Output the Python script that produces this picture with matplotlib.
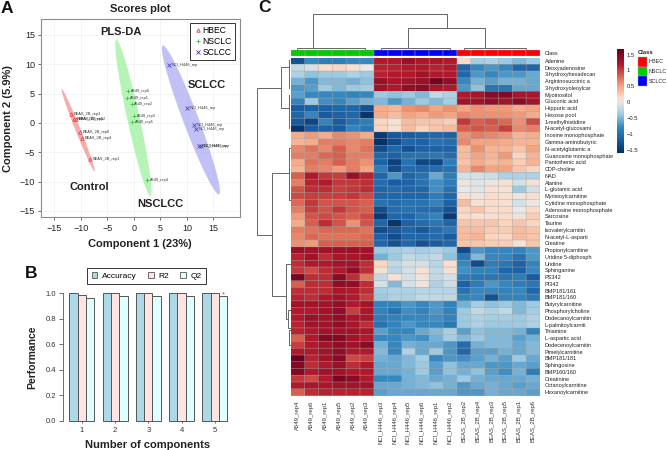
import numpy as np
import matplotlib
matplotlib.use('Agg')
import matplotlib.pyplot as plt
from matplotlib.patches import Rectangle
from matplotlib.colors import Normalize, LinearSegmentedColormap

plt.rcParams['font.family'] = ['Liberation Sans', 'DejaVu Sans']

W, H = 667, 450

# panel A data
hbec_x = [-11.8, -11.2, -10.9, -10.2, -9.8, -8.2]
hbec_y = [1.5, 0.7, 0.7, -1.5, -2.5, -6.1]
hbec_names = ['BEAS_2B_rep3', 'BEAS_2B_rep5', 'BEAS_2B_rep2', 'BEAS_2B_rep6', 'BEAS_2B_rep4', 'BEAS_2B_rep1']
nsclc_x = [-1.1, -1.3, -0.4, 0.0, -0.3, 2.5]
nsclc_y = [5.5, 4.2, 3.3, 1.1, 0.1, -9.7]
nsclc_names = ['A549_rep6', 'A549_rep1', 'A549_rep2', 'A549_rep3', 'A549_rep5', 'A549_rep4']
sclc_x = [6.7, 10.0, 11.4, 11.7, 12.3, 12.6]
sclc_y = [9.9, 2.6, -0.4, -1.1, -4.0, -4.0]
sclc_names = ['NCI_H446_rep', 'NCI_H446_rep', 'NCI_H446_rep', 'NCI_H446_rep', 'NCI_H446_rep', 'NCI_H446_rep']

# panel B data
components = [1, 2, 3, 4, 5]
accuracy = [1.0, 1.0, 1.0, 1.0, 1.0]
r2 = [0.985, 0.999, 0.999, 0.999, 0.999]
q2 = [0.96, 0.975, 0.975, 0.975, 0.975]

# panel C data
metabolites = ['Adenine', 'Deoxyadenosine', '3-hydroxyhexadecan', 'Argininosuccinic a', '3-hydroxyoleoylcar',
               'Myoinositol', 'Gluconic acid', 'Hippuric acid', 'Hexose pool', '1-methylhistidine',
               'N-acetyl-glucosami', 'Inosine monophosphate', 'Gamma-aminobutyric', 'N-acetylglutamic a',
               'Guanosine monophosphate', 'Pantothenic acid', 'CDP-choline', 'NAD', 'Alanine', 'L-glutamic acid',
               'Myristoylcarnitine', 'Cytidine monophosphate', 'Adenosine monophosphate', 'Sarcosine', 'Taurine',
               'Isovalerylcarnitin', 'N-acetyl-L-asparti', 'Creatine', 'Propionylcarnitine', 'Uridine 5-diphosph',
               'Uridine', 'Sphinganine', 'PS342', 'PI342', 'BMP181/161', 'BMP181/160', 'Butyrylcarnitine',
               'Phosphorylcholine', 'Dodecanoylcarnitin', 'L-palmitoylcarniti', 'Thiamine', 'L-aspartic acid',
               'Dodecenoylcarnitin', 'Pimelylcarnitine', 'BMP181/181', 'Sphingosine', 'BMP160/160', 'Creatinine',
               'Octanoylcarnitine', 'Hexanoylcarnitine']
samples = ['A549_rep4', 'A549_rep6', 'A549_rep1', 'A549_rep5', 'A549_rep2', 'A549_rep3',
           'NCI_H446_rep3', 'NCI_H446_rep4', 'NCI_H446_rep5', 'NCI_H446_rep6', 'NCI_H446_rep1', 'NCI_H446_rep2',
           'BEAS_2B_rep2', 'BEAS_2B_rep4', 'BEAS_2B_rep3', 'BEAS_2B_rep5', 'BEAS_2B_rep1', 'BEAS_2B_rep6']

a549_vals = [
    [-1.3, -0.8, -0.9, -0.9, -0.8, -0.8], [-0.2, -0.1, 0.15, 0.2, 0.1, 0.0], [-0.3, -0.45, -0.4, -0.4, -0.3, -0.4],
    [-0.55, -0.7, -0.5, -0.5, -0.55, -0.45], [-0.7, -0.65, -0.4, -0.5, -0.4, -0.35], [-0.65, -0.8, -0.8, -0.8, -0.85, -0.8],
    [-0.85, -0.4, -0.75, -0.8, -0.65, -0.55], [-1.2, -1.15, -1.15, -1.1, -1.1, -1.3], [-1.1, -0.8, -1.2, -1.15, -1.1, -1.55],
    [-1.25, -1.4, -0.85, -1.2, -1.0, -0.9], [-1.55, -1.2, -1.15, -1.2, -0.85, -0.95], [0.45, 0.55, 0.45, 0.65, 0.6, 0.45],
    [0.4, 0.45, 0.7, 0.7, 0.65, 0.7], [0.65, 0.75, 0.65, 0.85, 0.65, 0.75], [0.7, 0.7, 0.8, 0.85, 0.7, 0.7],
    [0.45, 0.75, 0.7, 0.85, 0.7, 0.6], [0.4, 0.7, 0.65, 0.55, 0.7, 0.5], [0.85, 1.2, 1.05, 1.0, 1.35, 1.15],
    [0.7, 1.15, 1.2, 1.05, 1.05, 1.1], [0.9, 1.1, 1.1, 1.0, 1.05, 1.1], [0.95, 1.0, 1.0, 1.0, 1.05, 0.95],
    [0.8, 1.05, 0.9, 0.9, 0.9, 0.85], [0.7, 1.0, 0.9, 1.05, 0.9, 0.85], [0.55, 0.9, 0.95, 0.9, 0.85, 0.95],
    [0.45, 0.85, 1.1, 0.9, 0.6, 0.9], [0.7, 0.75, 0.8, 0.8, 0.8, 0.75], [0.65, 0.8, 0.75, 0.75, 0.75, 0.8],
    [0.6, 0.55, 0.85, 0.85, 0.85, 0.85], [1.35, 1.3, 1.3, 1.35, 1.35, 1.3], [1.15, 1.3, 1.1, 1.25, 1.25, 1.3],
    [1.1, 1.2, 1.2, 1.3, 1.3, 1.1], [1.05, 0.95, 1.1, 1.2, 1.4, 1.1], [1.55, 1.1, 1.1, 1.45, 1.1, 0.75],
    [0.85, 1.1, 1.1, 1.4, 1.4, 1.1], [1.1, 1.1, 1.1, 1.25, 1.2, 1.1], [1.15, 1.1, 1.2, 1.3, 1.2, 1.0],
    [1.3, 1.3, 1.3, 1.4, 1.2, 1.3], [1.2, 1.2, 1.3, 1.4, 1.0, 1.25], [1.2, 1.35, 1.3, 1.4, 1.25, 1.25],
    [1.15, 1.3, 1.3, 1.4, 1.25, 1.1], [1.15, 1.2, 1.3, 1.3, 1.3, 1.25], [0.85, 1.2, 1.5, 1.5, 1.3, 1.2],
    [1.0, 1.2, 1.3, 1.4, 1.3, 1.45], [1.2, 1.2, 1.3, 1.4, 1.2, 1.2], [1.65, 1.15, 1.3, 1.45, 0.95, 1.0],
    [1.5, 1.1, 1.2, 1.35, 1.1, 1.2], [1.5, 1.2, 1.3, 1.3, 1.2, 1.2], [1.05, 0.95, 1.2, 1.55, 1.45, 1.2],
    [1.2, 1.25, 1.25, 1.3, 1.3, 1.3], [0.85, 1.1, 1.15, 1.15, 1.15, 1.15]]
nci_vals = [
    [1.2, 1.2, 1.35, 1.25, 1.25, 1.2], [1.15, 1.15, 1.2, 1.2, 1.15, 1.2], [1.15, 1.2, 1.2, 1.3, 1.2, 1.2],
    [1.35, 1.25, 1.3, 1.35, 1.6, 1.4], [1.3, 1.2, 1.4, 1.45, 1.25, 1.2], [-0.4, -0.45, -0.4, -0.5, -0.2, -0.3],
    [-0.5, -0.7, -0.55, -0.4, -0.5, -0.35], [0.45, 0.4, 0.6, 0.65, 0.5, 0.6], [0.45, 0.35, 0.5, 0.45, 0.55, 0.5],
    [0.2, 0.1, 0.35, 0.3, 0.3, 0.25], [0.2, 0.1, 0.35, 0.2, 0.3, 0.35], [-1.5, -1.25, -1.2, -1.15, -1.1, -1.15],
    [-1.6, -1.35, -1.1, -1.15, -1.0, -1.05], [-1.35, -1.1, -1.3, -1.15, -1.15, -1.15], [-1.1, -1.15, -1.0, -1.0, -0.95, -1.05],
    [-1.15, -1.45, -1.0, -1.4, -1.4, -0.9], [-0.9, -1.35, -1.05, -1.1, -1.05, -1.0], [-1.1, -0.7, -1.1, -1.0, -0.6, -0.9],
    [-1.05, -1.2, -1.15, -1.0, -0.75, -0.9], [-1.1, -1.05, -1.1, -1.1, -0.75, -1.0], [-1.1, -1.1, -1.1, -1.1, -0.9, -1.1],
    [-1.0, -1.05, -1.0, -1.0, -0.85, -1.15], [-1.35, -1.05, -1.0, -1.05, -1.05, -1.3], [-1.5, -1.1, -1.1, -0.95, -0.85, -1.5],
    [-1.1, -1.55, -1.15, -1.05, -0.95, -1.1], [-1.35, -1.25, -1.1, -1.25, -1.05, -0.95], [-1.15, -1.35, -1.1, -1.1, -1.05, -1.2],
    [-1.1, -1.3, -1.1, -1.3, -1.2, -1.1], [-0.4, -0.35, -0.3, -0.35, -0.3, -0.4], [-0.55, -0.4, -0.2, -0.25, -0.2, -0.45],
    [0.2, -0.2, -0.1, -0.1, -0.25, 0.1], [0.1, -0.25, -0.1, 0.1, -0.2, 0.1], [-0.2, 0.1, -0.1, 0.05, -0.2, -0.1],
    [-0.1, -0.5, -0.1, 0.05, -0.3, -0.15], [-0.35, -0.3, -0.3, -0.25, -0.25, -0.25], [-0.4, -0.3, -0.3, -0.2, -0.2, -0.2],
    [-0.85, -0.85, -0.7, -0.8, -0.7, -0.85], [-0.85, -1.0, -0.75, -0.85, -0.7, -0.85], [-0.9, -0.85, -0.8, -0.8, -0.75, -0.85],
    [-1.0, -0.85, -0.7, -0.8, -0.8, -0.95], [-0.65, -0.8, -0.8, -0.6, -0.5, -0.35], [-0.8, -0.8, -0.7, -0.75, -0.55, -0.35],
    [-0.55, -0.8, -0.55, -0.6, -0.6, -0.7], [-0.5, -0.8, -0.3, -0.6, -0.4, -0.7], [-0.55, -0.6, -0.5, -0.35, -0.8, -0.7],
    [-0.6, -0.6, -0.5, -0.4, -0.65, -0.45], [-0.6, -0.6, -0.55, -0.4, -0.65, -0.45], [-0.8, -0.8, -0.55, -0.5, -0.6, -0.55],
    [-0.6, -0.6, -0.55, -0.5, -0.45, -0.55], [-0.65, -0.6, -0.6, -0.6, -0.6, -0.6]]
beas_vals = [
    [0.15, -0.35, -0.3, -0.4, -0.5, -0.4], [-1.1, -0.8, -0.7, -0.8, -1.1, -1.1], [-1.1, -0.7, -0.8, -0.7, -0.7, -0.6],
    [-0.8, -0.55, -0.65, -0.55, -0.55, -0.6], [-0.7, -0.45, -0.95, -0.95, -0.6, -0.6], [1.2, 1.25, 1.45, 1.5, 1.25, 1.25],
    [1.3, 1.3, 1.4, 1.3, 1.45, 1.3], [0.5, 0.6, 0.55, 0.55, 0.45, 0.5], [0.65, 0.6, 0.6, 0.6, 0.55, 0.45],
    [1.05, 0.85, 0.9, 0.8, 0.6, 0.95], [0.85, 0.9, 0.85, 1.0, 0.65, 0.7], [0.6, 0.7, 0.65, 0.6, 0.4, 0.45],
    [0.65, 0.5, 0.5, 0.45, 0.4, 0.4], [0.35, 0.6, 0.4, 0.4, 0.3, 0.5], [0.35, 0.5, 0.4, 0.55, 0.2, 0.4],
    [0.3, 0.45, 0.35, 0.4, 0.25, 0.4], [0.4, 0.65, 0.5, 0.5, 0.3, 0.2], [-0.1, -0.1, -0.15, -0.3, -0.3, -0.3],
    [0.05, -0.05, 0.05, 0.1, -0.1, 0.1], [0.0, -0.05, 0.1, 0.1, -0.4, -0.1], [0.1, 0.05, 0.15, 0.1, 0.05, 0.15],
    [0.35, 0.1, 0.15, 0.1, -0.1, 0.0], [0.2, 0.3, 0.15, 0.15, 0.0, 0.15], [0.15, 0.1, 0.1, 0.15, 0.05, 0.25],
    [0.3, 0.3, 0.3, 0.2, 0.3, 0.2], [0.35, 0.35, 0.25, 0.25, 0.35, 0.3], [0.35, 0.4, 0.2, 0.2, 0.35, 0.3],
    [0.3, 0.3, 0.25, 0.25, 0.1, 0.3], [-1.35, -0.7, -0.8, -0.8, -0.85, -0.7], [-0.95, -0.5, -0.8, -0.8, -1.0, -0.7],
    [-0.8, -1.35, -0.9, -0.95, -1.15, -0.85], [-0.75, -0.85, -0.85, -1.1, -1.15, -0.8], [-0.9, -0.95, -0.95, -0.95, -0.9, -1.2],
    [-1.15, -0.9, -0.7, -0.8, -0.9, -0.95], [-1.0, -0.8, -0.8, -0.85, -0.8, -1.1], [-0.85, -0.8, -1.3, -0.85, -0.85, -0.95],
    [-0.55, -0.35, -0.45, -0.4, -0.5, -0.4], [-0.4, -0.2, -0.3, -0.2, -0.5, -0.35], [-0.4, -0.3, -0.35, -0.35, -0.4, -0.3],
    [-0.4, -0.3, -0.4, -0.4, -0.4, -0.3], [-0.65, -0.45, -0.5, -0.5, -0.55, -0.85], [-0.5, -0.4, -0.5, -0.5, -0.65, -0.55],
    [-1.05, -0.55, -0.5, -0.5, -0.6, -0.5], [-1.1, -0.65, -0.65, -0.55, -0.6, -0.5], [-0.75, -0.65, -0.55, -0.65, -0.4, -0.6],
    [-0.6, -0.6, -0.7, -0.7, -0.6, -0.65], [-0.55, -0.45, -0.65, -0.75, -0.55, -0.9], [-0.4, -0.55, -0.6, -0.6, -0.6, -0.55],
    [-0.7, -0.6, -0.55, -0.6, -0.65, -0.6], [-0.7, -0.7, -0.55, -0.6, -0.6, -0.65]]

class_names = ['HBEC', 'NSCLC', 'SCLCC']
class_colors = ['#ff0000', '#00cc00', '#0000ff']
sample_class = [1] * 6 + [2] * 6 + [0] * 6

# dendrogram merges: position a, height a, position b, height b, height of the join
col_merges = [(1.6, 0.03, 11.27, 0.6, 1.0), (8.47, 0.03, 14.04, 0.03, 0.6),
              (0.45, 0.0, 5.4, 0.0, 0.03), (6.5, 0.0, 11.5, 0.0, 0.03), (12.5, 0.0, 17.0, 0.0, 0.03)]
row_merges = [(4.0, 10, 25.8, 19, 33.7), (0.9, 1.5, 7.0, 1.5, 10), (16.6, 1.7, 34.8, 5, 19),
              (30.0, 1, 38.2, 2.5, 5), (-0.2, 1.5, 4.0, 1.5, 1.5), (5.0, 1.5, 10.0, 1.5, 1.5),
              (12.9, 0.5, 20.6, 0.5, 1.7), (36.9, 0.5, 39.5, 0.5, 2.5), (39.8, 0.5, 42.0, 0.5, 1.8)]

# colour scale of the heatmap
scale_vals = [-1.61, -1.2, -0.8, -0.4, 0.0, 0.15, 0.5, 0.85, 1.2, 1.68]
scale_cols = ['#053061', '#1a5da3', '#3587bf', '#9ccae1', '#e8e8e8', '#fbdcc9', '#f4a582', '#d6604d', '#b2182b', '#67001f']


def px_axes(left, top, right, bottom, **kw):
    # axes placed by pixel position in the picture
    return fig.add_axes([left / W, 1 - bottom / H, (right - left) / W, (bottom - top) / H], **kw)


fig = plt.figure(figsize=(W / 100, H / 100), dpi=100)

# ---------- panel A ----------
ax = px_axes(41.3, 19.3, 240, 217.3)
ax.set_xlim(-17.45, 20)
ax.set_ylim(-16.1, 17.67)
ax.set_axisbelow(True)
ax.grid(color='#f0f0f0', lw=0.5)
for s in ax.spines.values():
    s.set_color('#8c8c8c')
    s.set_linewidth(0.8)
ax.set_xticks([-15, -10, -5, 0, 5, 10, 15])
ax.set_yticks([-15, -10, -5, 0, 5, 10, 15])
ax.set_xticklabels(['\u221215', '\u221210', '\u22125', '0', '5', '10', '15'])
ax.set_yticklabels(['\u221215', '\u221210', '\u22125', '0', '5', '10', '15'])
ax.tick_params(labelsize=6.5, length=2.5, width=0.6, color='#555555', pad=2, labelcolor='#222222')

t = np.linspace(0, 2 * np.pi, 200)
ells = [((-13.6, 5.8), (-7.4, -8.3), 0.5, '#f08080'),
        ((-3.3, 14.2), (3.1, -12.5), 1.2, '#90ee90'),
        ((5.5, 13.2), (16.0, -12.2), 1.55, '#a0a0f0')]
for tip1, tip2, wid, col in ells:
    cx, cy = (tip1[0] + tip2[0]) / 2, (tip1[1] + tip2[1]) / 2
    vx, vy = (tip1[0] - tip2[0]) / 2, (tip1[1] - tip2[1]) / 2
    ax.fill(cx + vx * np.cos(t) + wid * np.sin(t), cy + vy * np.cos(t), color=col, alpha=0.65, lw=0)

groups = [(hbec_x, hbec_y, hbec_names, '#ee3333', '^', 2.5), (nsclc_x, nsclc_y, nsclc_names, '#33bb33', '+', 3),
          (sclc_x, sclc_y, sclc_names, '#3333cc', 'x', 2.5)]
for xs, ys, names, col, mk, ms in groups:
    ax.plot(xs, ys, ls='', marker=mk, ms=ms, mfc='none', mec=col, mew=0.5)
    for x, y, name in zip(xs, ys, names):
        ax.text(x + 0.5, y, name, fontsize=2.8, color='#333333', va='center')

ax.text(-2.4, 15.5, 'PLS-DA', fontsize=8, fontweight='bold', ha='center', va='center', color='#222222')
ax.text(13.7, 6.45, 'SCLCC', fontsize=8, fontweight='bold', ha='center', va='center', color='#222222')
ax.text(-8.45, -10.9, 'Control', fontsize=8, fontweight='bold', ha='center', va='center', color='#222222')
ax.text(4.9, -13.9, 'NSCLCC', fontsize=8, fontweight='bold', ha='center', va='center', color='#222222')

leg_a = [plt.Line2D([], [], ls='', marker=mk, ms=ms, mfc='none', mec=col, mew=0.6, label=n)
         for n, (_, _, _, col, mk, ms) in zip(class_names, groups)]
ax.legend(handles=leg_a, loc='upper left', bbox_to_anchor=(0.748, 0.982), fontsize=6.2, frameon=True, fancybox=False,
          edgecolor='#333333', framealpha=1, borderpad=0.35, labelspacing=0.25, handletextpad=0.0, handlelength=1.1,
          borderaxespad=0).get_frame().set_linewidth(0.7)

fig.text(140 / W, 1 - 8.5 / H, 'Scores plot', fontsize=8, fontweight='bold', ha='center', va='center', color='#222222')
fig.text(140 / W, 1 - 244 / H, 'Component 1 (23%)', fontsize=8, fontweight='bold', ha='center', va='center', color='#222222')
fig.text(8.5 / W, 1 - 119 / H, 'Component 2 (5.9%)', fontsize=8, fontweight='bold', rotation=90, ha='center', va='center', color='#222222')

# ---------- panel B ----------
axb = px_axes(63, 293.3, 232, 420.7)
axb.set_xlim(1 + (63 - 81.8) / 33.25, 1 + (232 - 81.8) / 33.25)
axb.set_ylim(0, 1)
bar_w = 0.25
edge = '#555555'
axb.bar(np.array(components) - bar_w, accuracy, bar_w, color='#add8e6', edgecolor=edge, lw=0.7, clip_on=False)
axb.bar(np.array(components), r2, bar_w, color='#ffe4e1', edgecolor=edge, lw=0.7, clip_on=False)
axb.bar(np.array(components) + bar_w, q2, bar_w, color='#e0ffff', edgecolor=edge, lw=0.7, clip_on=False)
axb.text(5 + bar_w, q2[4] + 0.012, '*', fontsize=5.5, ha='center', va='center', color='#666666')
for name in ['top', 'right', 'bottom']:
    axb.spines[name].set_visible(False)
axb.spines['left'].set_color('#555555')
axb.spines['left'].set_linewidth(0.6)
axb.set_xticks(components)
axb.set_yticks([0, 0.2, 0.4, 0.6, 0.8, 1.0])
axb.tick_params(labelsize=5.5, length=3, width=0.6, color='#555555', pad=2, labelcolor='#333333')
axb.tick_params(axis='x', length=1.5, pad=3)
axb.set_ylabel('Performance', fontsize=7.5, fontweight='bold', labelpad=6, color='#222222')
axb.set_xlabel('Number of components', fontsize=8, fontweight='bold', labelpad=4, color='#222222')
handles = [Rectangle((0, 0), 1, 1, fc=c, ec=edge, lw=0.6) for c in ['#add8e6', '#ffe4e1', '#e0ffff']]
fig.legend(handles, ['Accuracy', 'R2', 'Q2'], ncol=3, loc='center', bbox_to_anchor=(146.5 / W, 1 - 276.3 / H), fontsize=6,
           fancybox=False, edgecolor='#333333', framealpha=1, handlelength=0.7, handleheight=0.7, handletextpad=0.5,
           columnspacing=1.4, borderpad=0.5).get_frame().set_linewidth(0.7)

# ---------- panel C ----------
matrix = np.hstack([np.array(a549_vals), np.array(nci_vals), np.array(beas_vals)])
vmin, vmax = scale_vals[0], scale_vals[-1]
norm = Normalize(vmin, vmax)
heat_cmap = LinearSegmentedColormap.from_list('heat', [(norm(v), c) for v, c in zip(scale_vals, scale_cols)])
hm_left, hm_right, hm_top, hm_bottom = 290.7, 540, 57.5, 395.5
n_rows, n_cols = matrix.shape

axh = px_axes(hm_left, hm_top, hm_right, hm_bottom)
axh.pcolormesh(np.arange(n_cols + 1), np.arange(n_rows + 1), matrix, cmap=heat_cmap, norm=norm)
# cell borders, not snapped to the pixel grid so that they stay even
axh.hlines(np.arange(n_rows + 1), 0, n_cols, color='#a8a8a8', lw=0.45, alpha=0.7, snap=False)
axh.vlines(np.arange(n_cols + 1), 0, n_rows, color='#a8a8a8', lw=0.45, alpha=0.7, snap=False)
axh.set_xlim(0, n_cols)
axh.set_ylim(n_rows, 0)
for s in axh.spines.values():
    s.set_visible(False)
axh.yaxis.tick_right()
axh.set_yticks(np.arange(n_rows) + 0.5)
axh.set_yticklabels(metabolites)
axh.set_xticks(np.arange(n_cols) + 0.5)
axh.set_xticklabels(samples, rotation=90, ha='center', va='top')
axh.tick_params(length=0, labelsize=4.0, labelcolor='#222222')
axh.tick_params(axis='y', pad=3.4)
axh.tick_params(axis='x', pad=3.5)
for lab in axh.get_xticklabels():
    lab.set_fontsize(4.3)
    lab.set_color('#333333')

# class annotation strip
axc = px_axes(hm_left, 49.5, hm_right, 55.5)
for i, c in enumerate(sample_class):
    axc.add_patch(Rectangle((i, 0), 1, 1, fc=class_colors[c], ec='#a8a8a8', lw=0.3))
axc.set_xlim(0, n_cols)
axc.set_ylim(0, 1)
axc.axis('off')
fig.text(544.5 / W, 1 - 53.5 / H, 'Class', fontsize=4.0, va='center', color='#222222')

# column dendrogram
axd = px_axes(hm_left, 13.5, hm_right, 49)
axd.set_xlim(0, n_cols)
axd.set_ylim(0, 1)
axd.axis('off')
for a, ha, b, hb, h in col_merges:
    axd.plot([a, a, b, b], [ha, h, h, hb], color='#666666', lw=0.7, clip_on=False, solid_joinstyle='miter')

# row dendrogram
axr = px_axes(250, hm_top, hm_left, hm_bottom)
axr.set_xlim(hm_left - 250, 0)
axr.set_ylim(n_rows - 0.5, -0.5)
axr.axis('off')
for a, ha, b, hb, h in row_merges:
    axr.plot([ha, h, h, hb], [a, a, b, b], color='#666666', lw=0.7, clip_on=False, solid_joinstyle='miter')

# colour bar
axcb = px_axes(617.3, 49, 624.3, 153)
grad = np.linspace(vmax, vmin, 256).reshape(-1, 1)
axcb.imshow(grad, aspect='auto', cmap=heat_cmap, norm=norm, extent=[0, 1, vmin, vmax])
axcb.set_xticks([])
axcb.yaxis.tick_right()
axcb.set_yticks([-1.5, -1, -0.5, 0, 0.5, 1, 1.5])
axcb.set_yticklabels(['\u22121.5', '\u22121', '\u22120.5', '0', '0.5', '1', '1.5'])
axcb.tick_params(length=0, labelsize=4.2, pad=1.5, labelcolor='#222222')
for s in axcb.spines.values():
    s.set_visible(False)

# class legend
axl = px_axes(0, 0, W, H)
axl.set_xlim(0, W)
axl.set_ylim(H, 0)
axl.axis('off')
axl.patch.set_alpha(0)
axl.text(637.5, 52.7, 'Class', fontsize=4.2, fontweight='bold', va='center', color='#222222')
for i, (name, c) in enumerate(zip(class_names, class_colors)):
    axl.add_patch(Rectangle((638, 57 + i * 9.7), 9, 9.7, fc=c, ec='#a8a8a8', lw=0.3))
    axl.text(648.5, 61.9 + i * 9.7, name, fontsize=3.9, va='center', color='#222222')

# panel letters
axl.text(1, 8.5, 'A', fontsize=12.5, fontweight='bold', va='center', color='#111111')
axl.text(25, 273.5, 'B', fontsize=12.5, fontweight='bold', va='center', color='#111111')
axl.text(258, 7, 'C', fontsize=12.5, fontweight='bold', va='center', color='#111111')

fig.savefig('out.png', dpi=100)
